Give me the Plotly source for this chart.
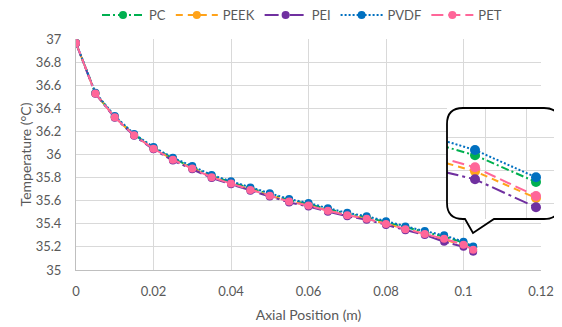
import plotly.graph_objects as go

# ---- data ----
axial_position = [0, 0.005, 0.01, 0.015, 0.02, 0.025, 0.03, 0.035, 0.04, 0.045, 0.05,
                  0.055, 0.06, 0.065, 0.07, 0.075, 0.08, 0.085, 0.09, 0.095, 0.1, 0.1025]
temp_pc = [36.965, 36.530, 36.327, 36.172, 36.058, 35.965, 35.890, 35.815, 35.760, 35.705, 35.656,
           35.605, 35.571, 35.527, 35.487, 35.457, 35.413, 35.368, 35.328, 35.290, 35.237, 35.197]
temp_peek = [36.965, 36.530, 36.323, 36.167, 36.052, 35.956, 35.880, 35.805, 35.750, 35.695, 35.645,
             35.594, 35.560, 35.515, 35.475, 35.445, 35.400, 35.354, 35.314, 35.265, 35.213, 35.173]
temp_pei = [36.963, 36.525, 36.318, 36.162, 36.045, 35.948, 35.872, 35.797, 35.742, 35.687, 35.637,
            35.585, 35.550, 35.505, 35.465, 35.435, 35.390, 35.344, 35.303, 35.245, 35.201, 35.159]
temp_pvdf = [36.967, 36.535, 36.333, 36.178, 36.064, 35.972, 35.900, 35.823, 35.768, 35.714, 35.665,
             35.614, 35.580, 35.535, 35.495, 35.465, 35.422, 35.377, 35.337, 35.300, 35.245, 35.204]
temp_pet = [36.965, 36.528, 36.322, 36.166, 36.050, 35.955, 35.878, 35.803, 35.748, 35.693, 35.643,
            35.593, 35.558, 35.513, 35.474, 35.443, 35.398, 35.352, 35.312, 35.270, 35.219, 35.176]
series_names = ["PC", "PEEK", "PEI", "PVDF", "PET"]

# ---- styles ----
series_values = [temp_pc, temp_peek, temp_pei, temp_pvdf, temp_pet]
colors = ["#00B050", "#FFA31A", "#7030A0", "#0070C0", "#FF6699"]
dashes = ["8px,3px,2px,3px", "7px,5px", "14px,4px,3px,4px", "2px,2px", "12px,5px"]

FONT = "Lato, 'Open Sans', sans-serif"
GRAY = "#595959"
GRID = "#D9D9D9"

OFF = 8  # page body margin: the figure is drawn 8 px right and down in the window
W, H = 562 - OFF, 327 - OFF
# screen-pixel layout targets
scr_left, scr_right, scr_top, scr_bottom = 76, 541, 39, 270
L = scr_left - OFF
T = scr_top - OFF
B = H - (scr_bottom - OFF)
R = 0
plot_w = W - L - R
plot_h = H - T - B


def px_x(sx_):
    return (sx_ - OFF - L) / plot_w


def px_y(sy_):
    return (H - B - (sy_ - OFF)) / plot_h


main_dom_x = [0, px_x(scr_right)]

# inset box in screen pixels
ix0, ix1, iy0, iy1 = 447, 560, 108, 219
inset_dom_x = [px_x(ix0), px_x(ix1)]
inset_dom_y = [px_y(iy1), px_y(iy0)]

fig = go.Figure()
for name, vals, c, d in zip(series_names, series_values, colors, dashes):
    fig.add_trace(go.Scatter(
        x=axial_position, y=vals, name=name, mode="lines+markers",
        line=dict(color=c, width=2, dash=d), marker=dict(size=8, color=c),
        xaxis="x", yaxis="y"))
for name, vals, c, d in zip(series_names, series_values, colors, dashes):
    fig.add_trace(go.Scatter(
        x=axial_position, y=vals, name=name, mode="lines+markers", showlegend=False,
        line=dict(color=c, width=2, dash=d), marker=dict(size=10, color=c),
        xaxis="x2", yaxis="y2", cliponaxis=True))

# inset axis scale: 24.4 px per 0.001 m, 0.0015 degC per px
sx = 24400.0
sy = 0.0015
x2_range = [0.1 - (475 - ix0) / sx, 0.1 + (ix1 - 475) / sx]
y2_range = [35.245 - (iy1 - 150) * sy, 35.245 + (150 - iy0) * sy]

axis_common = dict(showgrid=True, gridcolor=GRID, gridwidth=1, zeroline=False,
                   showline=True, linecolor="#BFBFBF", linewidth=1, ticks="",
                   automargin=False,
                   tickfont=dict(family=FONT, size=13, color=GRAY))

fig.update_layout(
    width=W, height=H,
    margin=dict(l=L, r=R, t=T, b=B, autoexpand=False),
    paper_bgcolor="white", plot_bgcolor="white",
    font=dict(family=FONT, color=GRAY),
    xaxis=dict(domain=main_dom_x, range=[0, 0.12], dtick=0.02, tick0=0,
               ticklabelstandoff=9,
               title=dict(text="Axial Position (m)", font=dict(family=FONT, size=14, color=GRAY), standoff=12),
               **axis_common),
    yaxis=dict(domain=[0, 1], range=[35, 37], dtick=0.2, tick0=35,
               ticklabelstandoff=11,
               title=dict(text="Temperature (°C)", font=dict(family=FONT, size=14, color=GRAY), standoff=0),
               **axis_common),
    xaxis2=dict(domain=inset_dom_x, anchor="y2", range=x2_range, automargin=False,
                tick0=0.1 + 10 / sx, dtick=41 / sx, showgrid=True, gridcolor=GRID,
                zeroline=False, showline=False, showticklabels=False, ticks=""),
    yaxis2=dict(domain=inset_dom_y, anchor="x2", range=y2_range, automargin=False,
                tick0=35.245 - (203 - 150) * sy, dtick=33 * sy, showgrid=True, gridcolor=GRID,
                zeroline=False, showline=False, showticklabels=False, ticks=""),
    legend=dict(orientation="h", x=px_x(302), xanchor="center",
                y=px_y(15), yanchor="middle", itemwidth=42,
                font=dict(family=FONT, size=13, color=GRAY), bgcolor="rgba(0,0,0,0)"),
    showlegend=True,
)

# callout shape (in inset-domain coordinates)
bw, bh = ix1 - ix0, iy1 - iy0
r = 16
rx, ry = r / bw, r / bh
t1 = (465 - ix0) / bw
tip_x, tip_y = (473 - ix0) / bw, (iy1 - 233) / bh
t2 = (494 - ix0) / bw
path = (f"M {rx},0 L {t1},0 L {tip_x},{tip_y} L {t2},0 L {1-rx},0 Q 1,0 1,{ry} "
        f"L 1,{1-ry} Q 1,1 {1-rx},1 L {rx},1 Q 0,1 0,{1-ry} L 0,{ry} Q 0,0 {rx},0 Z")
fig.add_shape(type="path", path=path, xref="x2 domain", yref="y2 domain",
              fillcolor="white", line=dict(width=0), layer="below")
fig.add_shape(type="path", path=path, xref="x2 domain", yref="y2 domain",
              fillcolor="rgba(0,0,0,0)", line=dict(color="black", width=1.8), layer="above")

fig.write_html("out.html")
